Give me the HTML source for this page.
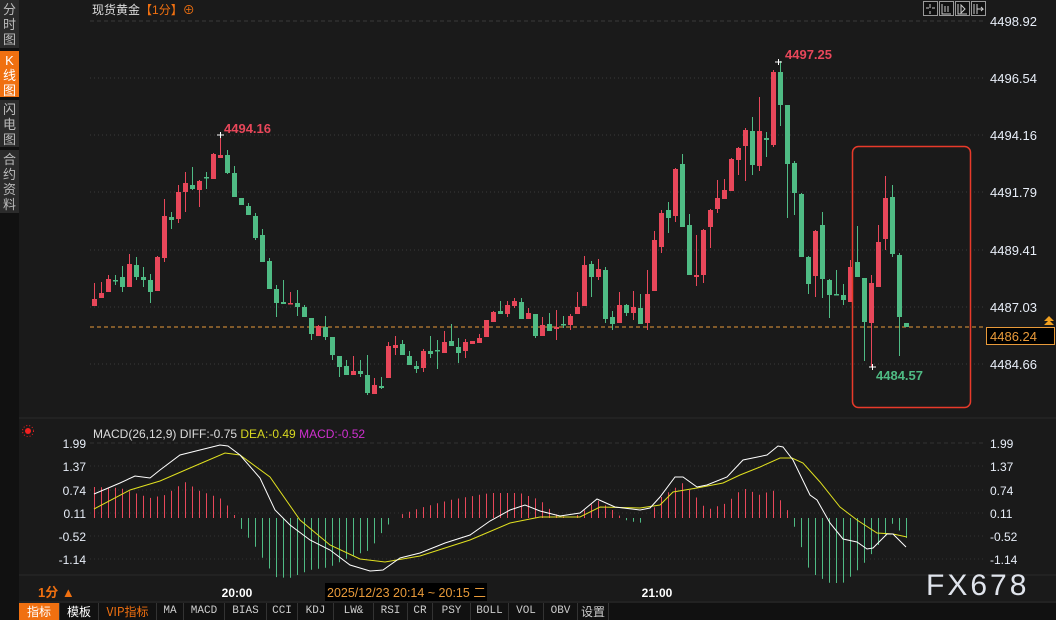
<!DOCTYPE html>
<html><head><meta charset="utf-8">
<style>
*{margin:0;padding:0;box-sizing:border-box}
body{width:1056px;height:620px;background:#1a1a1a;overflow:hidden;position:relative;font-family:"Liberation Sans","Noto Sans CJK SC",sans-serif;}
.side{position:absolute;left:0;top:0;width:19px;height:603px;background:#111;}
.si{position:absolute;left:0;width:19px;background:#2b2b2b;color:#bbb;font-size:13px;line-height:15px;text-align:center;padding-top:2px}
.si.on{background:#f07010;color:#fff}
.tb{position:absolute;top:603px;left:0;width:1056px;height:17px;background:#111;font-size:12px;line-height:17px;color:#ccc}
.tb span{position:absolute;top:0;height:17px;text-align:center;border-right:1px solid #333;font-family:"Liberation Mono","Noto Sans CJK SC",monospace;font-size:11px}
svg{position:absolute;left:0;top:0}
</style></head><body>
<div class="side">
<div class="si" style="top:0;height:48px">分<br>时<br>图</div>
<div class="si on" style="top:51px;height:46px">K<br>线<br>图</div>
<div class="si" style="top:100px;height:47px">闪<br>电<br>图</div>
<div class="si" style="top:150px;height:63px">合<br>约<br>资<br>料</div>
</div>
<svg id="s" width="1056" height="620" xmlns="http://www.w3.org/2000/svg" font-family="Liberation Sans, Noto Sans CJK SC, sans-serif"></svg>
<div class="tb">
<span style="left:19px;width:41px;background:#f07010;color:#fff;font-family:'Noto Sans CJK SC',sans-serif;font-size:12px">指标</span>
<span style="left:60px;width:39px;color:#fff;font-family:'Noto Sans CJK SC',sans-serif;font-size:12px">模板</span>
<span style="left:99px;width:58px;color:#f07010;font-family:'Noto Sans CJK SC',sans-serif;font-size:12px">VIP指标</span>
<span style="left:157px;width:27px">MA</span>
<span style="left:184px;width:41px">MACD</span>
<span style="left:225px;width:42px">BIAS</span>
<span style="left:267px;width:31px">CCI</span>
<span style="left:298px;width:36px">KDJ</span>
<span style="left:334px;width:40px">LW&amp;</span>
<span style="left:374px;width:34px">RSI</span>
<span style="left:408px;width:25px">CR</span>
<span style="left:433px;width:38px">PSY</span>
<span style="left:471px;width:38px">BOLL</span>
<span style="left:509px;width:35px">VOL</span>
<span style="left:544px;width:34px">OBV</span>
<span style="left:578px;width:31px;font-family:'Noto Sans CJK SC',sans-serif;font-size:12px">设置</span>
</div>
<script>
var s=document.getElementById('s');var h='';
var R='#e8475a',G='#4fbb84';
var pl=[[21,'4498.92'],[78,'4496.54'],[135,'4494.16'],[192,'4491.79'],[250,'4489.41'],[307,'4487.03'],[364,'4484.66']];
pl.forEach(function(p,i){h+='<line x1="90" x2="985" y1="'+p[0]+'" y2="'+p[0]+'" stroke="#3a3a3a" stroke-dasharray="'+(i==0?'4,3':'1,3')+'"/>';
h+='<text x="990" y="'+(p[0]+5)+'" fill="#e8eef8" font-size="13">'+p[1]+'</text>';});
h+='<line x1="19" x2="1056" y1="418" y2="418" stroke="#2a2a2a"/>';
h+='<line x1="19" x2="1056" y1="575" y2="575" stroke="#2a2a2a"/>';
h+='<line x1="19" x2="1056" y1="602" y2="602" stroke="#2a2a2a"/>';
h+='<line x1="90" x2="985" y1="327" y2="327" stroke="#e89a3a" stroke-dasharray="4,3"/>';
h+='<rect x="986.5" y="327.5" width="68" height="17" fill="#000" stroke="#e89a3a"/><text x="990" y="341" fill="#e89a3a" font-size="13">4486.24</text>';
h+='<path d="M1044 325 l5 -5 l5 5 z M1044 321 l5 -5 l5 5 z" fill="#f0a020"/>';
h+='<text x="92" y="14" fill="#ddd" font-size="12">现货黄金<tspan fill="#f07010">【1分】⊕</tspan></text>';
for(var k=0;k<4;k++){h+='<rect x="'+(923.5+k*16)+'" y="1.5" width="14" height="14" fill="#111" stroke="#999"/>';}
h+='<path d="M930 4v4M930 11v3M926 8h3M932 8h3" stroke="#ccc"/><path d="M942 4v10h9M945 6v6M948 6v6" stroke="#ccc" fill="none"/><path d="M958 4v10h9M961 5l4 4l-4 4z" stroke="#ccc" fill="none"/><path d="M974 4v10M977 4v10M977 9h6l-2 -2M981 11l2-2" stroke="#ccc" fill="none"/>';
var c=[[299,306,283,306,R],[293,298,282,298,R],[279,292,275,292,R],[280,281,275,285,G],[277,287,266,292,G],[264,287,254,287,R],[265,277,257,280,G],[277,280,267,287,G],[280,292,274,303,G],[257,291,256,291,R],
[216,258,199,262,R],[217,220,212,229,G],[192,219,185,223,R],[183,192,172,212,R],[185,189,167,190,G],[181,190,180,207,R],[177,178,172,189,G],[154,179,153,179,R],[155,158,135,158,R],[155,173,150,174,G],
[173,197,166,197,G],[198,205,198,205,G],[206,215,203,215,G],[216,238,213,240,G],[235,262,229,262,G],[261,289,258,289,G],[289,303,285,317,G],[302,304,280,304,G],[303,304,292,304,R],[303,307,290,316,G],
[307,317,305,317,G],[318,334,318,340,G],[326,336,325,336,R],[327,337,316,340,G],[337,355,337,360,G],[356,367,356,377,G],[366,375,360,375,G],[371,375,356,375,R],[371,374,360,377,G],[375,393,355,395,G],
[385,394,378,394,R],[386,388,377,389,G],[346,378,342,378,R],[345,348,336,355,R],[344,355,340,355,G],[356,365,351,365,G],[366,369,361,373,G],[351,368,349,372,R],[351,354,336,358,G],[350,351,340,369,G],
[342,353,331,353,R],[341,346,324,346,G],[347,353,338,363,G],[342,351,339,358,R],[341,344,341,344,R],[338,343,334,343,R],[320,337,320,337,R],[312,322,311,322,R],[311,314,301,314,G],[305,314,301,317,R],
[301,306,298,308,R],[302,319,298,319,G],[313,319,308,319,R],[314,336,314,338,G],[325,336,317,336,R],[324,331,313,331,G],[327,329,310,340,R],[324,325,316,328,G],[316,325,314,330,R],[307,314,292,314,R],
[265,306,256,306,R],[264,277,261,297,G],[269,277,259,280,R],[270,319,267,323,G],[317,324,311,330,G],[305,323,292,323,R],[305,313,304,316,G],[307,313,291,320,R],[308,324,294,324,G],[294,323,270,330,R],
[240,291,231,291,R],[213,247,210,253,R],[210,218,202,233,G],[169,216,168,222,R],[164,227,154,227,G],[225,275,214,275,G],[275,277,235,286,R],[230,275,229,283,R],[210,227,209,248,R],[198,209,180,213,R],
[190,199,179,199,R],[159,191,158,191,R],[148,160,147,175,R],[130,146,128,181,R],[131,165,117,175,G],[131,166,97,171,R],[138,140,132,157,G],[72,145,70,147,R],[72,105,61,126,G],[105,164,105,218,G],
[163,193,161,215,G],[194,257,193,257,G],[257,284,256,294,G],[231,276,230,297,R],[225,279,212,298,G],[280,295,279,318,G],[294,295,270,295,G],[295,300,284,305,G],[267,302,260,302,R],[262,277,226,277,G],
[278,322,278,361,G],[283,323,275,367,R],[242,287,225,287,R],[198,239,176,250,R],[197,254,185,257,G],[255,317,253,356,G],[323,327,323,327,G]];
c.forEach(function(d,i){var x=94+7*i;var bh=Math.max(d[1]-d[0],1.5);
h+='<line x1="'+(x+.5)+'" x2="'+(x+.5)+'" y1="'+d[2]+'" y2="'+d[3]+'" stroke="'+d[4]+'"/>';
h+='<rect x="'+(x-2)+'" y="'+d[0]+'" width="5" height="'+bh+'" fill="'+d[4]+'"/>';});
h+='<path d="M217 135h7M220.5 132v6M775 62h7M778.5 59v6M869 367h7M872.5 364v6" stroke="#fff"/>';
h+='<text x="224" y="133" fill="#e8475a" font-size="13" font-weight="bold">4494.16</text>';
h+='<text x="785" y="59" fill="#e8475a" font-size="13" font-weight="bold">4497.25</text>';
h+='<text x="876" y="380" fill="#4fbb84" font-size="13" font-weight="bold">4484.57</text>';
h+='<rect x="852.5" y="146.5" width="118" height="261" rx="6" fill="none" stroke="#e83a2a" stroke-width="1.5"/>';
var ml=[[443,'1.99'],[466,'1.37'],[490,'0.74'],[513,'0.11'],[536,'-0.52'],[559,'-1.14']];
ml.forEach(function(p,i){h+='<line x1="90" x2="985" y1="'+p[0]+'" y2="'+p[0]+'" stroke="#333" stroke-dasharray="'+(i==0?'4,3':'1,3')+'"/>';
h+='<text x="990" y="'+(p[0]+5)+'" fill="#e8eef8" font-size="12">'+p[1]+'</text><text x="86" y="'+(p[0]+5)+'" fill="#e8eef8" font-size="12" text-anchor="end">'+p[1]+'</text>';});
h+='<circle cx="28" cy="431" r="3" fill="#f02020"/><circle cx="28" cy="431" r="5.5" fill="none" stroke="#f02020" stroke-dasharray="1,2"/>';
h+='<text x="93" y="438" font-size="12" fill="#ddd">MACD(26,12,9) DIFF:-0.75 <tspan fill="#d8d820">DEA:-0.49</tspan> <tspan fill="#d030d0">MACD:-0.52</tspan></text>';
var DF=[[94,494],[120,483],[135,476],[150,478],[160,470],[180,455],[200,450],[220,445],[228,446],[240,455],[260,478],[275,510],[290,525],[310,540],[330,550],[350,565],[370,571],[383,570],[400,558],[420,553],[445,543],[470,535],[490,521],[510,510],[525,505],[540,511],[560,516],[580,513],[597,499],[615,507],[640,510],[650,508],[660,497],[675,477],[683,477],[697,487],[707,485],[727,477],[743,460],[767,455],[778,446],[783,447],[793,460],[810,495],[817,500],[830,523],[843,539],[857,542],[867,549],[873,548],[887,534],[893,534],[906,547]];
var DE=[[94,509],[130,490],[160,481],[190,468],[225,453],[240,455],[270,477],[300,520],[330,545],[360,559],[385,562],[420,556],[470,540],[510,523],[540,517],[580,517],[600,507],[640,508],[660,505],[673,492],[697,488],[723,483],[740,475],[760,467],[780,458],[792,458],[803,463],[820,482],[840,507],[857,520],[877,533],[893,534],[907,537]];
var HB=[[94,31],[120,30],[150,20],[165,23],[185,36],[200,27],[220,20],[232,8],[236,0],[240,-9],[255,-28],[262,-39],[275,-59],[290,-60],[310,-52],[330,-49],[350,-39],[370,-32],[385,-10],[392,-3],[400,3],[420,10],[450,18],[490,25],[520,25],[540,18],[555,4],[570,0],[580,4],[597,18],[610,10],[625,-2],[640,-5],[650,3],[660,20],[675,30],[683,35],[697,20],[707,8],[727,15],[743,30],[760,23],[773,28],[787,9],[791,0],[795,-10],[810,-54],[830,-65],[843,-65],[855,-55],[867,-42],[880,-25],[893,-5],[906,-20]];
function itp(a,x){for(var i=0;i<a.length-1;i++){if(x>=a[i][0]&&x<=a[i+1][0]){var t=(x-a[i][0])/(a[i+1][0]-a[i][0]);return a[i][1]+t*(a[i+1][1]-a[i][1]);}}return a[a.length-1][1];}
for(var i=0;i<c.length;i++){var x=94+7*i+.5;var v=itp(HB,x);var y0=518,y1=y0-v;
if(Math.abs(v)<1.5)continue;h+='<line x1="'+x+'" x2="'+x+'" y1="'+y0+'" y2="'+y1.toFixed(1)+'" stroke="'+(v>0?'#e8475a':'#4fbb84')+'"/>';}
function pth(a){return a.map(function(p,i){return (i?'L':'M')+p[0]+' '+p[1];}).join(' ');}
h+='<path d="'+pth(DE)+'" fill="none" stroke="#e0e020" stroke-width="1"/>';
h+='<path d="'+pth(DF)+'" fill="none" stroke="#ffffff" stroke-width="1"/>';
h+='<text x="38" y="597" fill="#f07010" font-size="13" font-weight="bold">1分 ▲</text>';
h+='<text x="237" y="597" fill="#fff" font-size="12" font-weight="bold" text-anchor="middle">20:00</text>';
h+='<text x="657" y="597" fill="#fff" font-size="12" font-weight="bold" text-anchor="middle">21:00</text>';
h+='<rect x="325" y="583" width="162" height="18" fill="#000"/><text x="327" y="597" fill="#e89a3a" font-size="12.5">2025/12/23 20:14 ~ 20:15 二</text>';
h+='<text x="926" y="595" fill="#e0e4ec" font-size="30" letter-spacing="3">FX678</text>';
s.innerHTML=h;
</script>
</body></html>
